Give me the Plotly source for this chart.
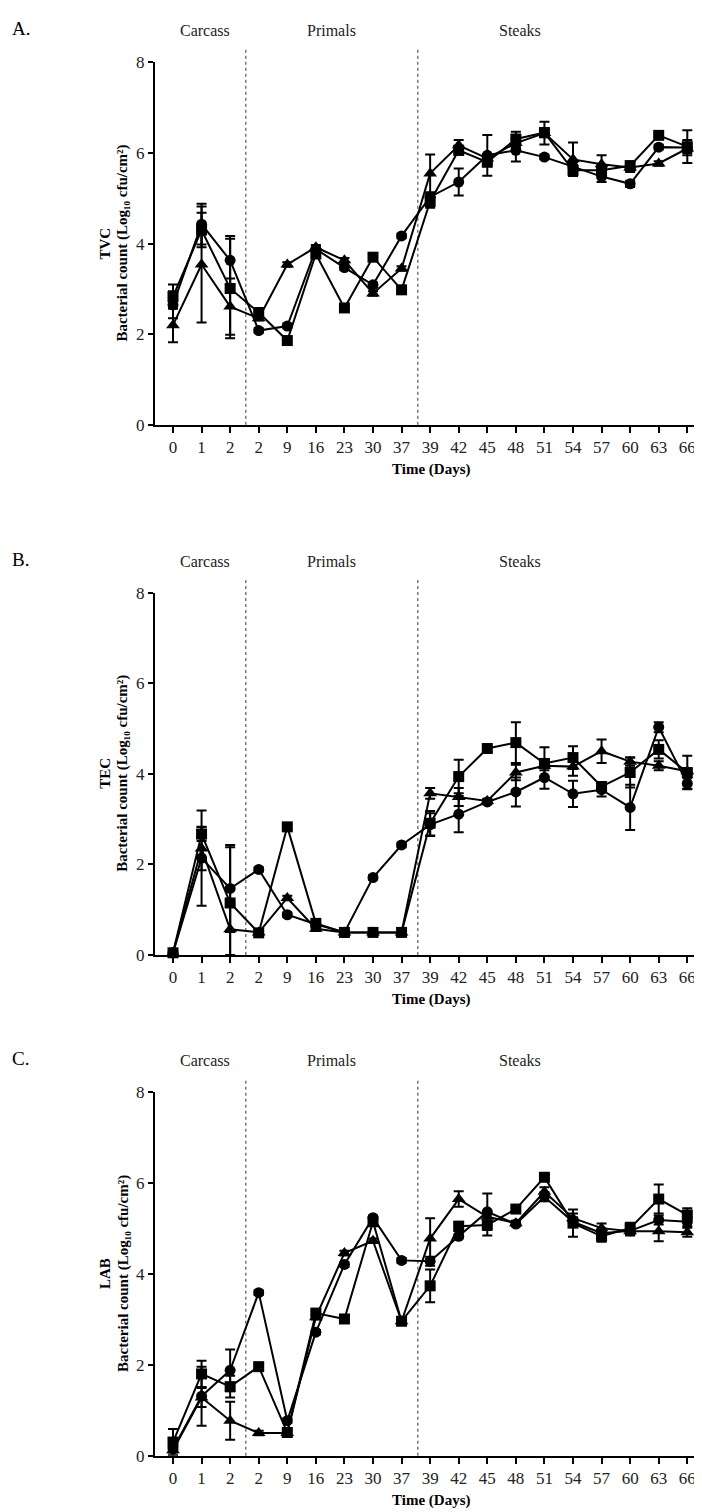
import plotly.graph_objects as go

# ---------------- data ----------------
days = ["0", "1", "2", "2", "9", "16", "23", "30", "37", "39", "42", "45",
        "48", "51", "54", "57", "60", "63", "66"]
sections = ["Carcass", "Primals", "Steaks"]
section_breaks = [2.55, 8.57]  # category-index positions of the dashed dividers

tvc_circle = [2.65, 4.43, 3.63, 2.08, 2.18, 3.88, 3.47, 3.09, 4.17, 5.03, 5.36, 5.95, 6.06, 5.91, 5.70, 5.48, 5.32, 6.13, 6.12]
tvc_square = [2.83, 4.30, 3.01, 2.48, 1.86, 3.77, 2.58, 3.70, 2.98, 4.93, 6.06, 5.80, 6.31, 6.45, 5.62, 5.62, 5.72, 6.39, 6.14]
tvc_triangle = [2.20, 3.54, 2.61, 2.35, 3.54, 3.92, 3.63, 2.90, 3.45, 5.55, 6.17, 5.88, 6.22, 6.44, 5.86, 5.75, 5.68, 5.77, 6.10]
tvc_circle_err = [0.30, 0.45, 0.54, 0.05, 0.05, 0.05, 0.05, 0.05, 0.05, 0.10, 0.30, 0.45, 0.25, 0.05, 0.10, 0.12, 0.07, 0.05, 0.17]
tvc_square_err = [0.27, 0.38, 1.10, 0.05, 0.05, 0.05, 0.05, 0.05, 0.05, 0.14, 0.10, 0.10, 0.16, 0.10, 0.10, 0.10, 0.10, 0.05, 0.36]
tvc_triangle_err = [0.38, 1.28, 0.62, 0.05, 0.05, 0.05, 0.05, 0.05, 0.05, 0.42, 0.12, 0.10, 0.10, 0.25, 0.37, 0.20, 0.10, 0.05, 0.10]

tec_circle = [0.05, 2.14, 1.47, 1.89, 0.89, 0.68, 0.50, 1.71, 2.43, 2.88, 3.11, 3.38, 3.60, 3.92, 3.56, 3.65, 3.26, 5.03, 3.79]
tec_square = [0.05, 2.67, 1.15, 0.49, 2.83, 0.70, 0.50, 0.50, 0.50, 2.91, 3.94, 4.56, 4.69, 4.23, 4.36, 3.72, 4.03, 4.54, 4.03]
tec_triangle = [0.05, 2.35, 0.57, 0.50, 1.26, 0.58, 0.50, 0.50, 0.50, 3.57, 3.49, 3.40, 4.03, 4.18, 4.16, 4.50, 4.27, 4.18, 4.06]
tec_circle_err = [0.0, 1.05, 0.96, 0.05, 0.05, 0.05, 0.05, 0.05, 0.05, 0.25, 0.40, 0.05, 0.32, 0.25, 0.29, 0.15, 0.50, 0.11, 0.12]
tec_square_err = [0.0, 0.15, 1.23, 0.05, 0.05, 0.05, 0.05, 0.05, 0.05, 0.27, 0.37, 0.08, 0.45, 0.36, 0.25, 0.10, 0.33, 0.20, 0.37]
tec_triangle_err = [0.0, 0.48, 0.57, 0.05, 0.05, 0.05, 0.05, 0.05, 0.05, 0.12, 0.20, 0.05, 0.17, 0.10, 0.20, 0.26, 0.09, 0.10, 0.05]

lab_circle = [0.15, 1.31, 1.88, 3.59, 0.77, 2.72, 4.21, 5.24, 4.30, 4.28, 4.83, 5.37, 5.10, 5.70, 5.15, 4.90, 4.95, 5.19, 5.15]
lab_square = [0.30, 1.80, 1.52, 1.96, 0.51, 3.14, 3.01, 5.15, 2.96, 3.74, 5.05, 5.08, 5.43, 6.13, 5.12, 4.83, 5.01, 5.65, 5.30]
lab_triangle = [0.12, 1.28, 0.77, 0.50, 0.50, 3.05, 4.46, 4.73, 2.96, 4.78, 5.65, 5.26, 5.12, 5.81, 5.23, 5.01, 4.94, 4.94, 4.92]
lab_circle_err = [0.05, 0.65, 0.46, 0.05, 0.05, 0.05, 0.05, 0.05, 0.05, 0.10, 0.05, 0.40, 0.05, 0.10, 0.10, 0.10, 0.10, 0.10, 0.10]
lab_square_err = [0.29, 0.29, 0.24, 0.05, 0.05, 0.05, 0.05, 0.05, 0.05, 0.36, 0.10, 0.23, 0.05, 0.05, 0.30, 0.12, 0.12, 0.32, 0.15]
lab_triangle_err = [0.05, 0.21, 0.42, 0.05, 0.05, 0.05, 0.05, 0.05, 0.05, 0.45, 0.17, 0.10, 0.05, 0.10, 0.10, 0.10, 0.08, 0.22, 0.10]

panels = [
    ("A.", "TVC", [(tvc_circle, tvc_circle_err, "circle"),
                   (tvc_square, tvc_square_err, "square"),
                   (tvc_triangle, tvc_triangle_err, "triangle-up")]),
    ("B.", "TEC", [(tec_circle, tec_circle_err, "circle"),
                   (tec_square, tec_square_err, "square"),
                   (tec_triangle, tec_triangle_err, "triangle-up")]),
    ("C.", "LAB", [(lab_circle, lab_circle_err, "circle"),
                   (lab_square, lab_square_err, "square"),
                   (lab_triangle, lab_triangle_err, "triangle-up")]),
]

# ---------------- layout geometry (pixels) ----------------
W, H = 702, 1512
x_left_px, x_right_px = 147, 697
panel_px = [(46, 413), (583, 950), (1089, 1457)]  # (top, bottom) of each y axis
xr = [-0.63, 18.62]
FONT = "Liberation Serif"
marker_size = {"circle": 11, "square": 11, "triangle-up": 12}

def py(px):
    return 1 - px / H

def pxx(px):
    return px / W

xdom = [pxx(x_left_px), pxx(x_right_px)]

def idx_to_paper(i):
    return xdom[0] + (i - xr[0]) / (xr[1] - xr[0]) * (xdom[1] - xdom[0])

fig = go.Figure()
annotations = []
shapes = []

x_idx = list(range(len(days)))
for p, (letter, name, series) in enumerate(panels):
    top, bot = panel_px[p]
    xa = "x" if p == 0 else f"x{p+1}"
    ya = "y" if p == 0 else f"y{p+1}"
    for vals, errs, sym in series:
        fig.add_trace(go.Scatter(
            x=x_idx, y=vals, xaxis=xa, yaxis=ya, mode="lines+markers",
            line=dict(color="black", width=2),
            marker=dict(symbol=sym, size=marker_size[sym], color="black"),
            error_y=dict(type="data", array=errs, visible=True, color="black",
                         thickness=2, width=5),
            showlegend=False, cliponaxis=False,
        ))
    ax_common = dict(showline=True, linewidth=2, linecolor="black", ticks="outside",
                     tickwidth=2, tickcolor="black", showgrid=False,
                     zeroline=False, tickfont=dict(family=FONT, size=17, color="#222"))
    fig.layout[("xaxis" if p == 0 else f"xaxis{p+1}")] = dict(
        domain=xdom, range=xr, anchor=ya, tickmode="array", ticklen=6,
        tickvals=x_idx, ticktext=days, **ax_common)
    fig.layout[("yaxis" if p == 0 else f"yaxis{p+1}")] = dict(
        domain=[py(bot), py(top)], range=[0, 8], anchor=xa,
        tickvals=[0, 2, 4, 6, 8], ticklen=5, **ax_common)

    # dashed section dividers
    for b in section_breaks:
        xp = idx_to_paper(b)
        shapes.append(dict(type="line", xref="paper", yref="paper", x0=xp, x1=xp,
                           y0=py(bot), y1=py(top - 13),
                           line=dict(color="#333", width=1, dash="dot"), layer="below"))
    # section labels
    sec_x = [197, 323, 512]
    for s, sx in zip(sections, sec_x):
        annotations.append(dict(text=s, x=pxx(sx), y=py(top - 32), xref="paper", yref="paper",
                                showarrow=False, xanchor="center", yanchor="middle",
                                font=dict(family=FONT, size=16, color="#222")))
    # panel letter
    annotations.append(dict(text=letter, x=pxx(2), y=py(top - 34), xref="paper", yref="paper",
                            showarrow=False, xanchor="left", yanchor="middle",
                            font=dict(family=FONT, size=19, color="black")))
    # y title (two rotated lines)
    annotations.append(dict(
        text=f"<b>{name}</b>",
        x=pxx(97), y=py((top + bot) / 2), xref="paper", yref="paper", showarrow=False,
        textangle=-90, xanchor="center", yanchor="middle",
        font=dict(family=FONT, size=15, color="black")))
    annotations.append(dict(
        text="<b>Bacterial count (Log\u2081\u2080 cfu/cm\u00b2)</b>",
        x=pxx(115), y=py((top + bot) / 2), xref="paper", yref="paper", showarrow=False,
        textangle=-90, xanchor="center", yanchor="middle",
        font=dict(family=FONT, size=15, color="black")))
    # x title
    annotations.append(dict(text="<b>Time (Days)</b>", x=pxx(423), y=py(bot + 45),
                            xref="paper", yref="paper", showarrow=False,
                            xanchor="center", yanchor="middle",
                            font=dict(family=FONT, size=15, color="black")))

fig.update_layout(width=W, height=H, margin=dict(l=0, r=0, t=0, b=0),
                  plot_bgcolor="white", paper_bgcolor="white",
                  annotations=annotations, shapes=shapes)

fig.write_html("out.html")
